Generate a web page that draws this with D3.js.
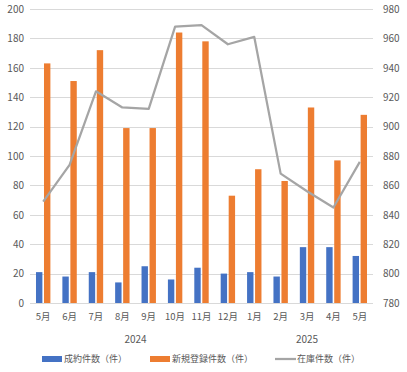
<!DOCTYPE html>
<html>
<head>
<meta charset="utf-8">
<script src="https://cdn.jsdelivr.net/npm/d3@7"></script>
<style>
  body { margin: 0; background: #fff; }
  svg text { font-family: "Noto Sans CJK JP", "Noto Sans", sans-serif; fill: #595959; }
</style>
</head>
<body>
<div id="chart"></div>
<script>
// data
var months = ['5月', '6月', '7月', '8月', '9月', '10月', '11月', '12月', '1月', '2月', '3月', '4月', '5月'];
var years = [
  { label: '2024', from: 0, to: 7 },
  { label: '2025', from: 8, to: 12 }
];
var contracts = [21, 18, 21, 14, 25, 16, 24, 20, 21, 18, 38, 38, 32];
var newListings = [163, 151, 172, 119, 119, 184, 178, 73, 91, 83, 133, 97, 128];
var inventory = [849, 874, 924, 913, 912, 968, 969, 956, 961, 868, 856, 845, 876];
var leftTicks = [0, 20, 40, 60, 80, 100, 120, 140, 160, 180, 200];
var rightTicks = [780, 800, 820, 840, 860, 880, 900, 920, 940, 960, 980];
var seriesNames = ['成約件数（件）', '新規登録件数（件）', '在庫件数（件）'];

(function() {
  'use strict';

  var svgWidth = 407,
    svgHeight = 372,
    margin = { top: 9, right: 34, bottom: 69, left: 30 },
    width = svgWidth - margin.left - margin.right,
    height = svgHeight - margin.top - margin.bottom;

  var colors = { blue: '#4472C4', orange: '#ED7D31', gray: '#A5A5A5', grid: '#D9D9D9' };

  var svg = d3.select('#chart').append('svg')
    .attr('width', svgWidth)
    .attr('height', svgHeight);

  var g = svg.append('g')
    .attr('transform', 'translate(' + margin.left + ',' + margin.top + ')');

  var x = d3.scaleBand()
    .domain(d3.range(months.length))
    .range([0, width])
    .padding(0);

  // two bars per month, sitting in the middle of each band
  var x1 = d3.scaleBand()
    .domain(['contracts', 'listings'])
    .range([x.bandwidth() / 2 - 7.2, x.bandwidth() / 2 + 7.2])
    .paddingInner(0.2);

  var yLeft = d3.scaleLinear().domain([0, 200]).range([height, 0]);
  var yRight = d3.scaleLinear().domain([780, 980]).range([height, 0]);

  // gridlines
  g.append('g')
    .selectAll('line')
    .data(leftTicks)
    .enter().append('line')
    .attr('x1', 0)
    .attr('x2', width)
    .attr('y1', function(d) { return Math.round(yLeft(d)) + 0.5; })
    .attr('y2', function(d) { return Math.round(yLeft(d)) + 0.5; })
    .attr('stroke', colors.grid)
    .attr('stroke-width', 1);

  // left axis
  var leftAxis = g.append('g')
    .call(d3.axisLeft(yLeft).tickValues(leftTicks).tickSize(0).tickPadding(6));
  leftAxis.select('.domain').remove();
  leftAxis.selectAll('text')
    .style('font-size', '10px')
    .attr('fill', '#595959');

  // right axis
  var rightAxis = g.append('g')
    .attr('transform', 'translate(' + width + ',0)')
    .call(d3.axisRight(yRight).tickValues(rightTicks).tickSize(0).tickPadding(10));
  rightAxis.select('.domain').remove();
  rightAxis.selectAll('text')
    .style('font-size', '10px')
    .attr('fill', '#595959');

  // bars
  g.append('g').selectAll('rect')
    .data(contracts)
    .enter().append('rect')
    .attr('x', function(d, i) { return x(i) + x1('contracts'); })
    .attr('y', function(d) { return yLeft(d); })
    .attr('width', x1.bandwidth())
    .attr('height', function(d) { return height - yLeft(d); })
    .attr('fill', colors.blue);

  g.append('g').selectAll('rect')
    .data(newListings)
    .enter().append('rect')
    .attr('x', function(d, i) { return x(i) + x1('listings'); })
    .attr('y', function(d) { return yLeft(d); })
    .attr('width', x1.bandwidth())
    .attr('height', function(d) { return height - yLeft(d); })
    .attr('fill', colors.orange);

  // inventory line on the right axis
  var line = d3.line()
    .x(function(d, i) { return x(i) + x.bandwidth() / 2; })
    .y(function(d) { return yRight(d); });

  g.append('path')
    .datum(inventory)
    .attr('d', line)
    .attr('fill', 'none')
    .attr('stroke', colors.gray)
    .attr('stroke-width', 2.25)
    .attr('stroke-linejoin', 'round');

  // month labels
  g.append('g').selectAll('text')
    .data(months)
    .enter().append('text')
    .attr('x', function(d, i) { return x(i) + x.bandwidth() / 2; })
    .attr('y', height + 14)
    .attr('dy', '0.35em')
    .attr('text-anchor', 'middle')
    .style('font-size', '9.5px')
    .text(function(d) { return d; });

  // year labels under their months
  g.append('g').selectAll('text')
    .data(years)
    .enter().append('text')
    .attr('x', function(d) {
      return (x(d.from) + x(d.to) + x.bandwidth()) / 2;
    })
    .attr('y', height + 36)
    .attr('dy', '0.35em')
    .attr('text-anchor', 'middle')
    .style('font-size', '10px')
    .text(function(d) { return d.label; });

  // legend
  var legend = svg.append('g')
    .attr('transform', 'translate(0,359)');
  var legendItems = [
    { x: 42, kind: 'rect', color: colors.blue, name: seriesNames[0] },
    { x: 150, kind: 'rect', color: colors.orange, name: seriesNames[1] },
    { x: 275, kind: 'line', color: colors.gray, name: seriesNames[2] }
  ];
  legendItems.forEach(function(item) {
    if (item.kind === 'rect') {
      legend.append('rect')
        .attr('x', item.x)
        .attr('y', -3)
        .attr('width', 20)
        .attr('height', 6)
        .attr('fill', item.color);
    } else {
      legend.append('line')
        .attr('x1', item.x)
        .attr('x2', item.x + 21)
        .attr('y1', 0)
        .attr('y2', 0)
        .attr('stroke', item.color)
        .attr('stroke-width', 2.25);
    }
    legend.append('text')
      .attr('x', item.x + 22)
      .attr('y', 0)
      .attr('dy', '0.35em')
      .style('font-size', '9px')
      .text(item.name);
  });
})();
</script>
</body>
</html>
